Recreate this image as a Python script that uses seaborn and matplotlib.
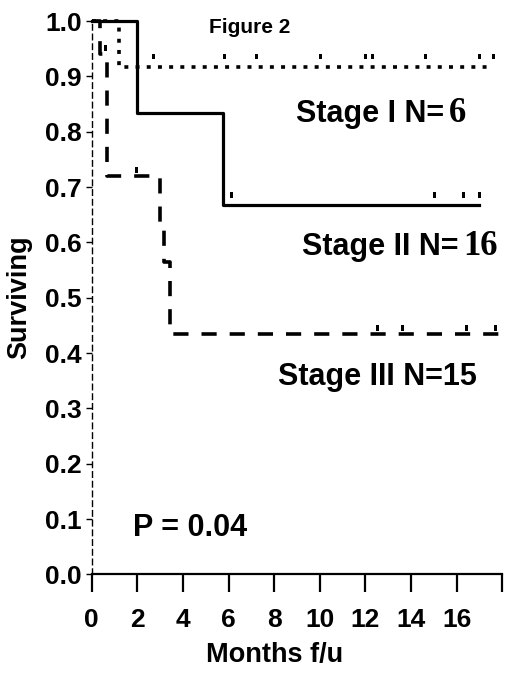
import matplotlib
matplotlib.use("Agg")
import matplotlib.pyplot as plt
from matplotlib.path import Path
import numpy as np
import pandas as pd
import seaborn as sns

# Kaplan-Meier step curves (months, survival)
stage1_t = [0.0, 1.2, 17.6]
stage1_s = [1.0, 0.917, 0.917]
stage2_t = [0.0, 2.0, 5.75, 17.0]
stage2_s = [1.0, 0.833, 0.667, 0.667]
stage3_t = [0.0, 0.37, 0.65, 3.0, 3.15, 3.43, 18.0]
stage3_s = [1.0, 0.94, 0.72, 0.635, 0.565, 0.435, 0.435]

# censored observations
cens1_t = [2.7, 5.8, 7.2, 10.0, 12.0, 12.3, 14.6, 17.0, 17.6]
cens1_s = [0.917] * 9
cens2_t = [6.1, 15.0, 16.3, 17.0]
cens2_s = [0.667] * 4
cens3_t = [0.58, 1.96, 12.5, 13.6, 16.4, 17.7]
cens3_s = [0.94, 0.72, 0.435, 0.435, 0.435, 0.435]

x_ticks = [0, 2, 4, 6, 8, 10, 12, 14, 16, 18]
x_labels = ["0", "2", "4", "6", "8", "10", "12", "14", "16", ""]
y_ticks = [0.0, 0.1, 0.2, 0.3, 0.4, 0.5, 0.6, 0.7, 0.8, 0.9, 1.0]

sns.set_style("ticks")
plt.rcParams["font.family"] = ["Liberation Sans", "DejaVu Sans"]
plt.rcParams["font.weight"] = "bold"
for key in ["text.color", "axes.labelcolor", "xtick.color", "ytick.color",
            "axes.edgecolor"]:
    plt.rcParams[key] = "black"


def censor_mark(lo, hi):
    # small block sitting above the data point (units ~ pixels)
    verts = [(-1.5, lo), (1.5, lo), (1.5, hi), (-1.5, hi), (-1.5, lo)]
    return Path(verts, closed=True), 2 * hi * 0.72


fig = plt.figure(figsize=(5.2, 6.87), dpi=100)
ax = fig.add_axes([0.1763, 0.164, 0.7896, 0.8054])

curves = [
    (stage1_t, stage1_s, (0, (1.1, 2.0)), 2.6),
    (stage2_t, stage2_s, "-", 2.3),
    (stage3_t, stage3_s, (0, (4.2, 3.6)), 2.6),
]
for t, s, ls, lw in curves:
    df = pd.DataFrame({"t": t, "s": s})
    sns.lineplot(data=df, x="t", y="s", ax=ax, estimator=None, sort=False,
                 drawstyle="steps-post", color="black", linestyle=ls,
                 linewidth=lw, clip_on=False, solid_capstyle="projecting",
                 dash_capstyle="butt")

for t, s, lo, hi in [(cens1_t, cens1_s, 8, 13), (cens2_t, cens2_s, 7, 13),
                     (cens3_t, cens3_s, 3, 9)]:
    df = pd.DataFrame({"t": t, "s": s})
    mk, ms = censor_mark(lo, hi)
    sns.scatterplot(data=df, x="t", y="s", ax=ax, marker=mk, s=ms ** 2,
                    color="black", linewidth=0, clip_on=False)

ax.set_xlim(0, 18)
ax.set_ylim(0, 1.0)
ax.set_xticks(x_ticks)
ax.set_xticklabels(x_labels)
ax.set_yticks(y_ticks)
ax.set_yticklabels([f"{v:.1f}" for v in y_ticks])

sns.despine(ax=ax)
ax.spines["left"].set_linestyle((0, (4, 3)))
ax.spines["left"].set_linewidth(1.0)
ax.spines["bottom"].set_linewidth(1.6)
ax.tick_params(axis="x", direction="out", length=13, width=1.6, pad=11,
               labelsize=19)
ax.tick_params(axis="y", direction="out", length=4, width=1.0, pad=3,
               labelsize=19)
for lab in ax.get_xticklabels() + ax.get_yticklabels():
    lab.set_fontweight("bold")

ax.set_xlabel("Months f/u", fontsize=19.5, fontweight="bold")
ax.set_ylabel("Surviving", fontsize=19.5, fontweight="bold")
ax.xaxis.set_label_coords(0.446, -0.123)
ax.yaxis.set_label_coords(-0.145, 0.5)

ax.text(5.16, 0.978, "Figure 2", fontsize=15, fontweight="bold")
ax.text(8.96, 0.817, "Stage I N=", fontsize=22, fontweight="bold")
ax.text(15.65, 0.817, "6", fontsize=25, fontweight="bold",
        family="Liberation Serif")
ax.text(9.23, 0.577, "Stage II N=", fontsize=22, fontweight="bold")
ax.text(16.3, 0.577, "16", fontsize=25, fontweight="bold",
        family="Liberation Serif")
ax.text(8.18, 0.342, "Stage III N=15", fontsize=22, fontweight="bold")
ax.text(1.8, 0.069, "P = 0.04", fontsize=22, fontweight="bold")

fig.savefig("out.png", dpi=100)
